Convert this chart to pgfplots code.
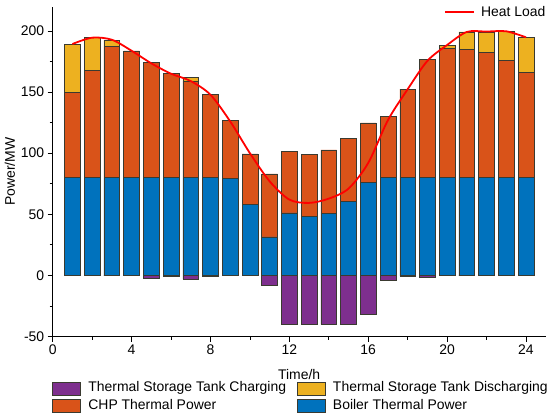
\documentclass[border=0pt]{standalone}
\usepackage{fontspec}
\setmainfont{Liberation Sans}
\usepackage{pgfplots}
\usepackage{pgfplotstable}
\pgfplotsset{compat=1.18}
\definecolor{cCharge}{HTML}{7E2F8E}
\definecolor{cDis}{HTML}{EDB120}
\definecolor{cCHP}{HTML}{D95319}
\definecolor{cBoil}{HTML}{0072BD}
\definecolor{edge}{HTML}{3A3A30}

\pgfplotstableread{
h boiler chp dis charge load
1  80   70.0  39.3  0     189.3
2  80   88.0  26.5  0     194.5
3  80   107.4 4.9   0     192.8
4  80   103.6 0     0     183.8
5  80   94.5  0     -2.0  173.5
6  80   85.0  0     -0.6  165.0
7  80   79.0  3.0   -3.3  159.0
8  80   68.0  0     -0.6  147.8
9  79.5 47.3  0     0     126.0
10 58.4 41.1  0     0     100.0
11 31.5 51.5  0     -7.7  77.0
12 51.2 50.2  0     -40   62.0
13 48.5 50.7  0     -40   59.3
14 51.0 51.7  0     -40   62.8
15 60.8 51.2  0     -40   71.0
16 76.4 48.3  0     -31.8 92.0
17 80.3 50.1  0     -3.8  127.0
18 80   72.3  0     -0.4  152.3
19 80   96.7  0     -1.9  175.5
20 80   105.8 2.7   0     188.5
21 80   104.7 14.5  0     199.2
22 80   102.5 16.7  0     199.5
23 80   95.9  23.8  0     199.7
24 80   86.3  28.5  0     194.8
}\data

\pgfplotsset{
  myaxis/.style={
    width=493bp, height=330bp, scale only axis,
    xmin=0, xmax=25, ymin=-50, ymax=220,
    clip=false,
  },
}

\begin{document}
\begin{tikzpicture}[font=\fontsize{14}{16}\selectfont]
\begin{axis}[myaxis,
  name=main,
  ybar stacked, bar width=0.8,
  axis x line*=bottom, axis y line*=left,
  xtick={0,4,...,24}, minor x tick num=1,
  ytick={-50,0,...,200}, minor y tick num=1,
  tick align=outside,
  major tick length=5bp, minor tick length=3bp,
  tick style={black, line width=0.8pt},
  axis line style={black, line width=0.8pt},
  /pgf/number format/assume math mode=true,
  tick label style={font=\fontsize{14}{16}\selectfont},
  label style={font=\fontsize{14}{16}\selectfont},
  xlabel={Time/h}, ylabel={Power/MW},
  xlabel style={at={(axis description cs:0.5,-0.1167)}, anchor=center},
  ylabel style={at={(axis description cs:-0.0866,0.5)}, anchor=center},
  legend columns=2,
  legend cell align=left,
  legend style={at={(axis description cs:0,0)}, anchor=north west,
    xshift=-0.4bp, yshift=-43.1bp,
    draw=none, fill=none, font=\fontsize{14}{16}\selectfont,
    inner sep=0pt, row sep=0pt,
    nodes={inner xsep=0pt, inner ysep=2.15bp, text height=10bp, text depth=3bp},
    /tikz/every odd column/.append style={column sep=7.7bp},
    /tikz/every even column/.append style={column sep=11bp}},
  legend image code/.code={\draw[#1] (0bp,-6.7bp) rectangle (27.7bp,6.7bp);},
]
\addlegendimage{fill=cCharge, draw=edge, line width=0.5pt}
\addlegendentry{Thermal Storage Tank Charging}
\addlegendimage{fill=cDis, draw=edge, line width=0.5pt}
\addlegendentry{Thermal Storage Tank Discharging}
\addlegendimage{fill=cCHP, draw=edge, line width=0.5pt}
\addlegendentry{CHP Thermal Power}
\addlegendimage{fill=cBoil, draw=edge, line width=0.5pt}
\addlegendentry{Boiler Thermal Power}
\addplot[fill=cBoil, draw=edge, line width=0.5pt, forget plot] table[x=h, y=boiler] {\data};
\addplot[fill=cCHP, draw=edge, line width=0.5pt, forget plot] table[x=h, y=chp] {\data};
\addplot[fill=cDis, draw=edge, line width=0.5pt, forget plot] table[x=h, y=dis] {\data};
\end{axis}
\begin{axis}[myaxis,
  hide axis,
  legend style={at={(axis description cs:1,0.984)}, anchor=east,
    draw=none, fill=none, inner sep=0pt, font=\fontsize{14}{16}\selectfont,
    nodes={inner xsep=0pt, inner ysep=1bp},
    /tikz/every odd column/.append style={column sep=6bp}},
  legend image code/.code={\draw[red, line width=1.8pt] (0bp,0bp) -- (29bp,0bp);},
]
\addplot[ybar, bar width=0.8, bar shift=0pt, fill=cCharge, draw=edge, line width=0.5pt, forget plot] table[x=h, y=charge] {\data};
\addplot[red, line width=1.8pt, smooth, mark=none] table[x=h, y=load] {\data};
\addlegendentry{Heat Load}
\end{axis}
\path (main.south west) ++(-52.7bp,-79.5bp) rectangle ++(550bp,416bp);
\end{tikzpicture}
\end{document}
